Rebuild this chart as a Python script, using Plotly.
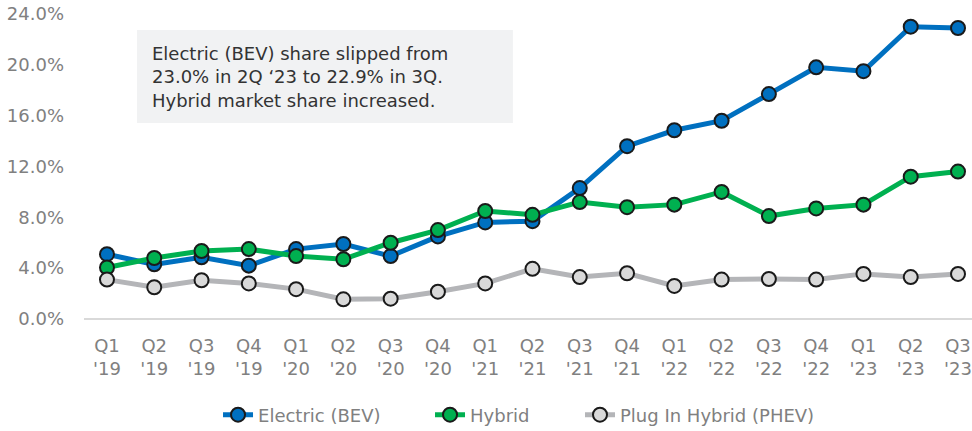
import plotly.graph_objects as go

quarters = ["Q1<br>'19", "Q2<br>'19", "Q3<br>'19", "Q4<br>'19",
            "Q1<br>'20", "Q2<br>'20", "Q3<br>'20", "Q4<br>'20",
            "Q1<br>'21", "Q2<br>'21", "Q3<br>'21", "Q4<br>'21",
            "Q1<br>'22", "Q2<br>'22", "Q3<br>'22", "Q4<br>'22",
            "Q1<br>'23", "Q2<br>'23", "Q3<br>'23"]

electric = [5.1, 4.3, 4.85, 4.2, 5.5, 5.9, 4.95, 6.5, 7.6, 7.7, 10.3, 13.6,
            14.85, 15.6, 17.7, 19.8, 19.5, 23.0, 22.9]
hybrid = [4.05, 4.8, 5.35, 5.5, 4.95, 4.7, 6.0, 7.0, 8.5, 8.2, 9.2, 8.8,
          9.0, 10.0, 8.1, 8.7, 9.0, 11.2, 11.6]
phev = [3.1, 2.5, 3.05, 2.8, 2.35, 1.55, 1.6, 2.15, 2.8, 3.95, 3.3, 3.6,
        2.6, 3.1, 3.15, 3.1, 3.55, 3.3, 3.55]

y_ticks = [0, 4, 8, 12, 16, 20, 24]
y_tick_labels = ["0.0%", "4.0%", "8.0%", "12.0%", "16.0%", "20.0%", "24.0%"]

note = "Electric (BEV) share slipped from<br>23.0% in 2Q \u201823 to 22.9% in 3Q.<br>Hybrid market share increased."

FONT = "DejaVu Sans, Verdana, sans-serif"

series = [
    ("Electric (BEV)", electric, "#0070c0", "#0070c0", "legend"),
    ("Hybrid", hybrid, "#00b050", "#00b050", "legend2"),
    ("Plug In Hybrid (PHEV)", phev, "#b4b5b8", "#d9d9d9", "legend3"),
]

fig = go.Figure()
for name, vals, lc, mc, lg in series:
    fig.add_trace(go.Scatter(
        x=quarters, y=vals, name=name, mode="lines+markers", legend=lg,
        line=dict(color=lc, width=5),
        marker=dict(size=14, color=mc, line=dict(color="#1a1a1a", width=2)),
    ))

def leg(x):
    return dict(orientation="h", xref="container", yref="container",
                x=x, xanchor="left", y=0.0371, yanchor="middle",
                font=dict(family=FONT, size=18, color="#808080"),
                bgcolor="rgba(0,0,0,0)")

fig.update_layout(
    width=972, height=431,
    margin=dict(l=84, r=0, t=14, b=112, autoexpand=False),
    paper_bgcolor="white", plot_bgcolor="white",
    font=dict(family=FONT, size=18, color="#808080"),
    showlegend=True,
    legend=leg(0.2243), legend2=leg(0.4424), legend3=leg(0.5967),
    xaxis=dict(showgrid=False, showline=False, zeroline=False, ticks="",
               automargin=False, ticklabelstandoff=14,
               range=[-0.486, 18.296], tickfont=dict(size=18, color="#808080")),
    yaxis=dict(range=[0, 24], tickvals=y_ticks, ticktext=y_tick_labels,
               automargin=False, ticklabeloverflow="allow",
               showgrid=False, zeroline=True, zerolinecolor="#d9d9d9", zerolinewidth=2,
               showline=False, ticks="", ticklabelstandoff=19,
               tickfont=dict(size=18, color="#808080")),
    shapes=[dict(type="rect", xref="paper", yref="paper",
                 x0=0.0597, x1=0.483, y0=0.6426, y1=0.9475,
                 fillcolor="#f1f2f3", line=dict(width=0), layer="below")],
    annotations=[dict(text=note, xref="paper", yref="paper", x=0.0743, y=0.795,
                      xanchor="left", yanchor="middle", align="left", showarrow=False,
                      font=dict(family=FONT, size=18, color="#333333"))],
)

fig.write_html("out.html", config={"displayModeBar": False},
               post_script="document.body.style.margin='0';document.body.style.overflow='hidden';")
